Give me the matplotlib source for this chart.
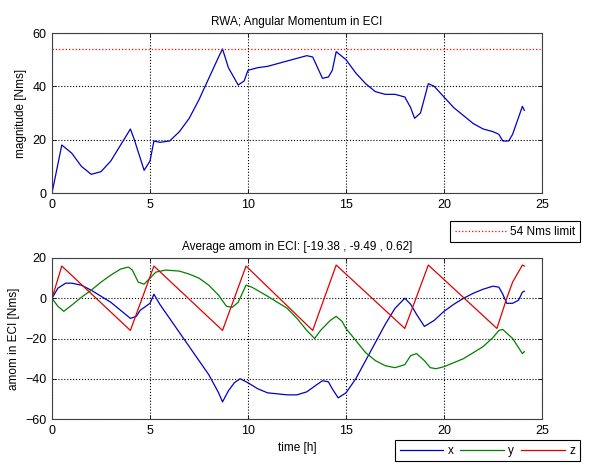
import matplotlib
matplotlib.use("Agg")
import matplotlib.pyplot as plt
import numpy as np

plt.rcParams['font.family'] = ['Liberation Sans', 'DejaVu Sans']
plt.rcParams['font.size'] = 8.5

# ---- data ----
t_mag = [0, 0.5, 1, 1.5, 2, 2.5, 3, 3.5, 4, 4.2, 4.7, 5.0, 5.2, 5.5, 6, 6.5, 7, 7.5, 8, 8.5,
         8.7, 9, 9.5, 9.8, 10, 10.5, 11, 12, 13, 13.3, 13.8, 14.1, 14.3, 14.5, 15, 15.5, 16,
         16.5, 17, 17.5, 18, 18.3, 18.5, 18.8, 19.2, 19.5, 20, 20.5, 21, 21.5, 22, 22.5, 22.8,
         23, 23.3, 23.5, 24, 24.1]
magnitude = [0, 18, 15, 10, 7, 8, 12, 18, 24, 20, 8.5, 12, 19.5, 19, 19.5, 23, 28, 35, 43, 51,
             54, 47, 40.5, 42, 46, 47, 47.5, 49.5, 51.5, 51, 43, 43.5, 46, 53, 50, 45, 41,
             38, 37, 37, 36, 32, 28, 30, 41, 40, 36, 32, 29, 26, 24, 23, 22,
             19.5, 19.5, 22, 32.5, 31]

limit_value = 54

t_x = [0, 0.3, 0.7, 1, 1.5, 2, 2.5, 3, 3.5, 4, 4.3, 4.5, 5, 5.2, 5.5, 6, 6.5, 7, 7.5, 8, 8.5,
       8.7, 9, 9.3, 9.6, 10, 10.5, 11, 12, 12.5, 13, 13.5, 13.8, 14.1, 14.3, 14.6, 15, 15.5,
       16, 16.5, 17, 17.5, 18, 18.3, 18.6, 19, 19.5, 20, 20.5, 21, 21.5, 22, 22.5, 22.8, 23,
       23.2, 23.5, 23.8, 24, 24.1]
amom_x = [0, 5, 7.5, 7.5, 6.5, 4, 1, -2, -6, -10, -9, -6, -2.5, 2, -3, -10, -17, -24, -31, -38, -47,
          -51.5, -46, -42, -40, -42, -45, -47, -48, -48, -46.5, -43, -41, -41.5, -45, -49.5, -47, -40,
          -31, -22, -13, -5, 0, -3, -8, -14, -11, -6.5, -3, 0, 2.5, 4.5, 6, 5.5, 2,
          -2.5, -2.5, -1, 3, 3.5]

t_y = [0, 0.3, 0.6, 1, 1.5, 2, 2.5, 3, 3.5, 3.9, 4.1, 4.4, 4.7, 5, 5.3, 5.8, 6.5, 7, 7.5, 8, 8.5,
       8.9, 9.2, 9.5, 9.9, 10.2, 11, 12, 12.5, 13, 13.4, 13.7, 14.2, 14.5, 14.8, 15, 15.5, 16,
       16.5, 17, 17.5, 18, 18.3, 18.6, 19, 19.3, 19.6, 20, 21, 22, 22.5, 22.8, 23, 23.5, 24, 24.1]
amom_y = [0, -4, -6.5, -3.5, 0.5, 4, 8, 11.5, 14.5, 15.5, 14, 8, 7, 10, 13, 14, 13.5, 12, 10, 6.5, 1.5,
          -4, -4.5, -2, 6.5, 5.5, 1, -5, -10, -16, -20, -16, -11, -9, -11.5, -15, -21, -27,
          -31, -33.5, -34.5, -33, -28.5, -27.5, -31, -34.5, -35, -34, -30, -24, -19.5, -16, -15.5, -20, -27.5, -26.5]

t_z = [0, 0.5, 4, 5.2, 8.7, 9.9, 13.3, 14.5, 18, 19.2, 22.7, 23.2, 23.5, 24, 24.1]
amom_z = [0, 16, -16, 16, -16, 16, -16, 16.5, -15, 16.5, -15, 0, 8, 16.5, 16]

title_top = "RWA; Angular Momentum in ECI"
title_bottom = "Average amom in ECI: [-19.38 , -9.49 , 0.62]"

W, H = 591, 467
fig = plt.figure(figsize=(W / 100, H / 100), dpi=100)

def ax_rect(l, t, r, b):
    return [l / W, 1 - b / H, (r - l) / W, (b - t) / H]

ax1 = fig.add_axes(ax_rect(52, 33, 542, 193))
ax2 = fig.add_axes(ax_rect(52, 258, 542, 419))

for ax in (ax1, ax2):
    ax.set_xlim(0, 25)
    ax.set_xticks([0, 5, 10, 15, 20, 25])
    ax.grid(True, linestyle=':', color='black', linewidth=0.8)
    ax.tick_params(direction='in', top=True, right=True, length=3, width=0.6, labelsize=9, pad=4)
    for s in ax.spines.values():
        s.set_color('#404040')
        s.set_linewidth(0.8)

ax1.plot(t_mag, magnitude, color='#0000c8', linewidth=0.9)
lim_line, = ax1.plot([0, 25], [limit_value, limit_value], color='red', linestyle=':', linewidth=0.9,
                     label='54 Nms limit')
ax1.set_ylim(0, 60)
ax1.set_yticks([0, 20, 40, 60])
ax1.set_ylabel('magnitude [Nms]', fontsize=8.5)
ax1.set_title(title_top, fontsize=8.5, pad=6)

lx, = ax2.plot(t_x, amom_x, color='#0000c8', linewidth=0.9, label='x')
ly, = ax2.plot(t_y, amom_y, color='#008000', linewidth=0.9, label='y')
lz, = ax2.plot(t_z, amom_z, color='#e00000', linewidth=0.9, label='z')
ax2.set_ylim(-60, 20)
ax2.set_yticks([-60, -40, -20, 0, 20])
ax2.set_ylabel('amom in ECI [Nms]', fontsize=8.5)
ax2.set_xlabel('time [h]', fontsize=8.5, labelpad=4)
ax2.set_title(title_bottom, fontsize=8.5, pad=6)

leg1 = fig.legend(handles=[lim_line], loc='upper left', bbox_to_anchor=(450 / W, 1 - 221 / H),
                  borderaxespad=0, fancybox=False, framealpha=1, edgecolor='black', handlelength=4.5,
                  borderpad=0.4, handletextpad=0.2, fontsize=8.5)
leg1.get_frame().set_linewidth(0.8)

leg2 = fig.legend(handles=[lx, ly, lz], loc='upper left', bbox_to_anchor=(395 / W, 1 - 440 / H),
                  borderaxespad=0, ncol=3, fancybox=False, framealpha=1, edgecolor='black',
                  handlelength=3.7, borderpad=0.4, handletextpad=0.35, columnspacing=0.6,
                  fontsize=8.5)
leg2.get_frame().set_linewidth(0.8)

fig.savefig('out.png', dpi=100)
